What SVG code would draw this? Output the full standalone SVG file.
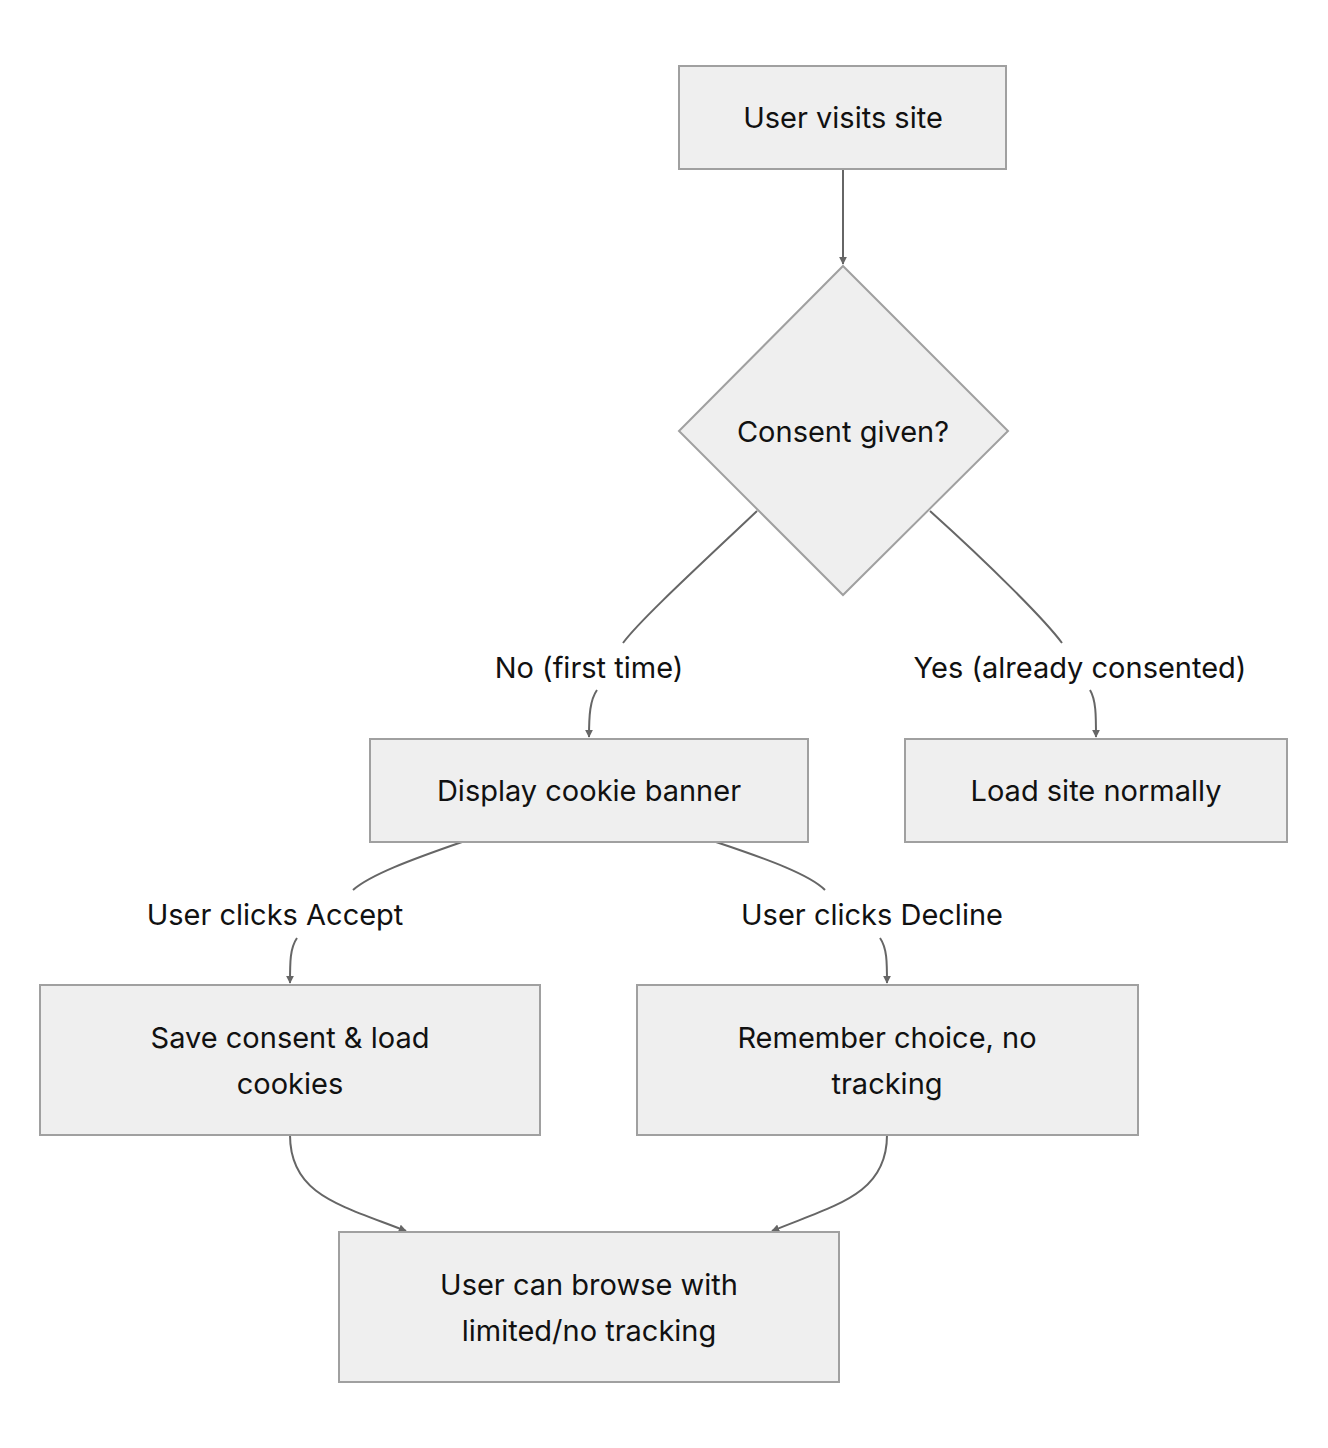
<svg xmlns="http://www.w3.org/2000/svg" width="1328" height="1448" viewBox="0 0 1328 1448">
<style>
.n{fill:#efefef;stroke:#a0a0a0;stroke-width:2}
.t{font-family:Inter,"Liberation Sans",sans-serif;font-size:29px;fill:#111;text-anchor:middle;dominant-baseline:central}
.e{fill:none;stroke:#666;stroke-width:2}
</style>
<defs><marker id="a" viewBox="0 0 10 10" refX="9" refY="5" markerWidth="8" markerHeight="8" markerUnits="userSpaceOnUse" orient="auto"><path d="M0,0L10,5L0,10z" fill="#666"/></marker></defs>
<rect width="1328" height="1448" fill="#fff"/>
<g id="edges">
<path class="e" d="M843,169V264" marker-end="url(#a)"/>
<path class="e" d="M757,511C700,565 640,620 623,643"/>
<path class="e" d="M597,690C590,700 589,715 589,737" marker-end="url(#a)"/>
<path class="e" d="M930,511C990,565 1045,620 1062,643"/>
<path class="e" d="M1090,690C1096,700 1096,715 1096,737" marker-end="url(#a)"/>
<path class="e" d="M462,842C410,860 370,875 353,890"/>
<path class="e" d="M297,938C290,948 290,962 290,983" marker-end="url(#a)"/>
<path class="e" d="M716,842C770,860 810,875 825,890"/>
<path class="e" d="M880,938C887,948 887,962 887,983" marker-end="url(#a)"/>
<path class="e" d="M290,1135C290,1195 340,1205 406,1231" marker-end="url(#a)"/>
<path class="e" d="M887,1135C887,1195 835,1205 772,1231" marker-end="url(#a)"/>
</g>
<g id="labels">
<text class="t" x="589" y="667">No (first time)</text>
<text class="t" x="1080" y="667">Yes (already consented)</text>
<text class="t" x="275" y="914">User clicks Accept</text>
<text class="t" x="872" y="914">User clicks Decline</text>
</g>
<g id="start"><rect class="n" x="679" y="66" width="327" height="103"/><text class="t" x="843" y="117">User visits site</text></g>
<g id="decision"><path class="n" d="M843,266L1008,431L843,595L679,431Z"/><text class="t" x="843" y="431">Consent given?</text></g>
<g id="banner"><rect class="n" x="370" y="739" width="438" height="103"/><text class="t" x="589" y="790">Display cookie banner</text></g>
<g id="load"><rect class="n" x="905" y="739" width="382" height="103"/><text class="t" x="1096" y="790">Load site normally</text></g>
<g id="save"><rect class="n" x="40" y="985" width="500" height="150"/><text class="t" x="290" y="1037">Save consent &amp; load</text><text class="t" x="290" y="1083">cookies</text></g>
<g id="remember"><rect class="n" x="637" y="985" width="501" height="150"/><text class="t" x="887" y="1037">Remember choice, no</text><text class="t" x="887" y="1083">tracking</text></g>
<g id="browse"><rect class="n" x="339" y="1232" width="500" height="150"/><text class="t" x="589" y="1284">User can browse with</text><text class="t" x="589" y="1330">limited/no tracking</text></g>
</svg>
